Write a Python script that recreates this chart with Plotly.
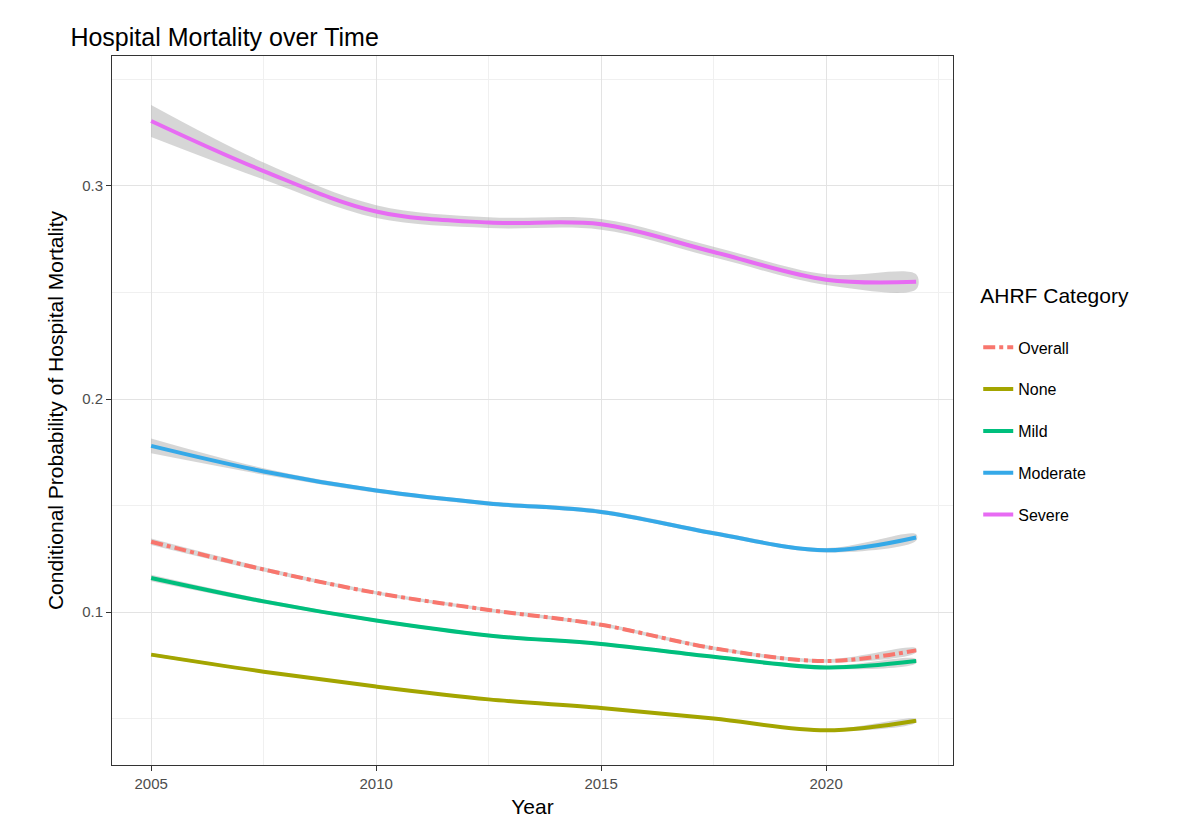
import plotly.graph_objects as go

years = [2005, 2007.5, 2010, 2012.5, 2015, 2017.5, 2020, 2022]
overall = [0.133, 0.120, 0.109, 0.101, 0.094, 0.083, 0.077, 0.082]
none_ = [0.0800, 0.0720, 0.0650, 0.0590, 0.0550, 0.0500, 0.0445, 0.0490]
mild = [0.116, 0.105, 0.096, 0.089, 0.085, 0.079, 0.0740, 0.077]
moderate = [0.178, 0.166, 0.157, 0.151, 0.147, 0.137, 0.129, 0.135]
severe = [0.3305, 0.307, 0.288, 0.2828, 0.282, 0.269, 0.256, 0.255]
se_overall = [0.0015, 0.001, 0.0008, 0.0008, 0.0008, 0.0008, 0.0008, 0.001]
se_none = [0.0008, 0.0006, 0.0005, 0.0005, 0.0005, 0.0005, 0.0005, 0.0008]
se_mild = [0.0015, 0.001, 0.0008, 0.0008, 0.0008, 0.0008, 0.0008, 0.001]
se_moderate = [0.0035, 0.0015, 0.001, 0.001, 0.001, 0.001, 0.001, 0.0015]
se_severe = [0.0075, 0.004, 0.003, 0.0025, 0.0025, 0.0025, 0.0025, 0.0035]

series = [
    ("Overall", overall, se_overall, "#F8766D", "dashdot"),
    ("None", none_, se_none, "#A3A500", "solid"),
    ("Mild", mild, se_mild, "#00BF7D", "solid"),
    ("Moderate", moderate, se_moderate, "#35A9E8", "solid"),
    ("Severe", severe, se_severe, "#E76BF3", "solid"),
]

fig = go.Figure()
for name, vals, se, col, dash in series:
    up = [v + s for v, s in zip(vals, se)]
    lo = [v - s for v, s in zip(vals, se)]
    fig.add_trace(go.Scatter(x=years + years[::-1], y=up + lo[::-1], mode="lines", fill="toself",
                             fillcolor="rgba(153,153,153,0.4)", line=dict(width=0, shape="spline"),
                             showlegend=False, hoverinfo="skip"))
for name, vals, se, col, dash in series:
    fig.add_trace(go.Scatter(x=years, y=vals, mode="lines", name=name, legendgroup=name,
                             line=dict(color=col, width=4, dash=dash, shape="spline")))

ax = dict(showline=True, linecolor="#333", mirror=True, ticks="outside", tickcolor="#333",
          ticklen=5, gridcolor="#e3e3e3", gridwidth=1.2, zeroline=False,
          tickfont=dict(size=15, color="#4d4d4d"), title_font=dict(size=21, color="black"))
fig.update_layout(
    width=1200, height=826, plot_bgcolor="white", paper_bgcolor="white",
    font=dict(family="Liberation Sans, Arial", color="black"),
    margin=dict(l=104, r=255, t=48, b=69),
    title=dict(text="Hospital Mortality over Time", x=0.052, xanchor="left", y=0.975, font=dict(size=25)),
    xaxis=dict(ax, title_text="Year", range=[2004.13, 2022.82], tickvals=[2005, 2010, 2015, 2020],
               minor=dict(dtick=2.5, tick0=2002.5, gridcolor="#f0f0f0", ticklen=0), title_standoff=8),
    yaxis=dict(ax, title_text="Conditional Probability of Hospital Mortality", range=[0.0282, 0.361],
               tickvals=[0.1, 0.2, 0.3], ticktext=["0.1", "0.2", "0.3"],
               minor=dict(dtick=0.05, tick0=0.0, gridcolor="#f0f0f0", ticklen=0), title_standoff=12),
    legend=dict(x=1.03, y=0.69, yanchor="top", font=dict(size=16),
                title=dict(text="AHRF Category<br>", font=dict(size=21)), tracegroupgap=18),
)
fig.write_html("out.html")
